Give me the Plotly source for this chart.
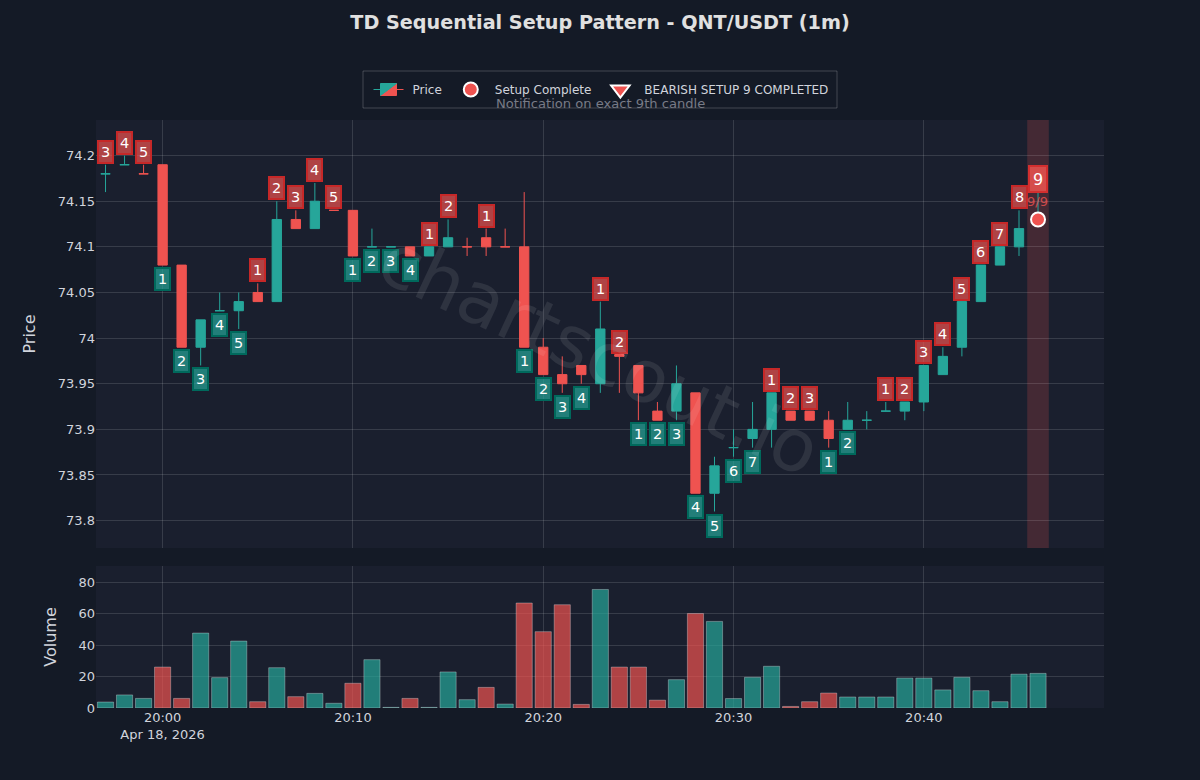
import pandas as pd
import plotly.graph_objects as go
from plotly.subplots import make_subplots

start_time = "2026-04-18 19:57"
opens = [74.18,74.19,74.18,74.19,74.08,73.99,74.03,74.03,74.05,74.04,74.13,74.12,74.14,74.14,74.10,74.10,74.10,74.09,74.10,74.10,74.11,74.10,74.10,73.99,73.96,73.97,73.95,73.982,73.97,73.92,73.92,73.94,73.83,73.88,73.89,73.90,73.92,73.92,73.91,73.90,73.91,73.92,73.92,73.93,73.96,73.99,74.04,74.08,74.10,74.13]
highs = [74.19,74.20,74.19,74.19,74.08,74.02,74.05,74.05,74.06,74.15,74.14,74.17,74.14,74.14,74.12,74.10,74.10,74.10,74.13,74.11,74.12,74.12,74.16,74.00,73.98,73.97,74.04,73.982,73.97,73.93,73.97,73.94,73.87,73.90,73.93,73.94,73.92,73.92,73.92,73.93,73.92,73.93,73.93,73.97,73.99,74.04,74.08,74.10,74.14,74.16]
lows = [74.16,74.19,74.18,74.08,73.99,73.97,74.03,74.01,74.04,74.04,74.12,74.12,74.14,74.09,74.10,74.10,74.09,74.09,74.10,74.09,74.09,74.10,73.99,73.96,73.94,73.95,73.94,73.94,73.91,73.91,73.91,73.83,73.81,73.87,73.88,73.88,73.91,73.91,73.88,73.90,73.90,73.92,73.91,73.92,73.96,73.98,74.04,74.08,74.09,74.13]
closes = [74.18,74.19,74.18,74.08,73.99,74.02,74.03,74.04,74.04,74.13,74.12,74.15,74.14,74.09,74.10,74.10,74.09,74.10,74.11,74.10,74.10,74.10,73.99,73.96,73.95,73.96,74.01,73.98,73.94,73.91,73.95,73.83,73.86,73.88,73.90,73.94,73.91,73.91,73.89,73.91,73.91,73.92,73.93,73.97,73.98,74.04,74.08,74.10,74.12,74.13]
volumes = [3.8,8.3,6.1,26,6.1,47.6,19.3,42.5,4,25.6,7.2,9.3,3,15.7,30.7,0.4,6.1,0.4,22.9,5.3,13.1,2.5,66.7,48.5,65.6,2.3,75.3,26,26,5,18,60,55,6,19.5,26.5,1,4,9.5,7,7,7,19,19,11.5,19.5,11,4,21.5,22]
# TD count per candle: positive above the high, negative below the low, 0 none
setup_counts = [3,4,5,-1,-2,-3,-4,-5,1,2,3,4,5,-1,-2,-3,-4,1,2,0,1,0,-1,-2,-3,-4,1,2,-1,-2,-3,-4,-5,-6,-7,1,2,3,-1,-2,0,1,2,3,4,5,6,7,8,9]
y_ticks_volume = [0,20,40,60,80]

UP, DOWN = "#26a69a", "#ef5350"
PAGE, PLOT = "#141a26", "#1a1f2e"
GRID = "rgba(255,255,255,0.13)"
TXT = "#d1d4dc"

times = pd.date_range(start_time, periods=len(opens), freq="min")

fig = make_subplots(rows=2, cols=1, shared_xaxes=True, vertical_spacing=18/588,
                    row_heights=[428/570, 142/570])

fig.add_trace(go.Candlestick(
    x=times, open=opens, high=highs, low=lows, close=closes, name="Price",
    increasing=dict(line=dict(color=UP, width=1), fillcolor=UP),
    decreasing=dict(line=dict(color=DOWN, width=1), fillcolor=DOWN),
), row=1, col=1)

fig.add_trace(go.Scatter(
    x=[times[-1]], y=[closes[-1]], mode="markers", name="Setup Complete",
    marker=dict(size=14, color=DOWN, line=dict(color="white", width=2)),
), row=1, col=1)

fig.add_trace(go.Scatter(
    x=[times[-1]], y=[None], mode="markers", name="BEARISH SETUP 9 COMPLETED",
    marker=dict(symbol="triangle-down", size=20, color=DOWN, line=dict(color="white", width=2)),
), row=1, col=1)

vol_colors = ["rgba(38,166,154,0.7)" if c >= o else "rgba(239,83,80,0.7)" for o, c in zip(opens, closes)]
fig.add_trace(go.Bar(
    x=times, y=volumes, marker=dict(color=vol_colors, line=dict(color="rgba(255,255,255,0.3)", width=1)),
    showlegend=False,
), row=2, col=1)

for t, h, l, n in zip(times, highs, lows, setup_counts):
    if n == 0:
        continue
    above = n > 0
    last = abs(n) == 9
    fig.add_annotation(
        x=t, y=h if above else l, xref="x", yref="y", text=str(abs(n)), showarrow=False,
        yshift=13 if above else -14,
        font=dict(color="white", size=16 if last else 14.5, family="DejaVu Sans"),
        width=12 if last else 9, height=20 if last else 16,
        bgcolor=("rgba(239,83,80,0.85)" if last else "rgba(239,83,80,0.7)") if above else "rgba(38,166,154,0.7)",
        bordercolor=("#d32f2f" if last else "#c62828") if above else "#00695c",
        borderwidth=2, borderpad=2,
    )

fig.add_annotation(x=times[-1], y=closes[-1], xref="x", yref="y", text="9/9", showarrow=False,
                   yshift=18, xshift=-1, font=dict(color=DOWN, size=13, family="DejaVu Sans"), opacity=0.8)

half = pd.Timedelta(seconds=34)
fig.add_shape(type="rect", xref="x", yref="y domain", x0=times[-1]-half, x1=times[-1]+half, y0=0, y1=1,
              fillcolor="rgba(239,83,80,0.2)", line_width=0, layer="below")

fig.add_shape(type="rect", xref="paper", yref="paper", x0=(363-96)/1008, x1=(837-96)/1008,
              y0=(708-108)/588, y1=(708-71)/588, line=dict(color="rgba(255,255,255,0.2)", width=1),
              fillcolor="rgba(0,0,0,0)")

fig.add_annotation(x=0.5, y=(708-104)/588, xref="paper", yref="paper", showarrow=False, yanchor="middle",
                   text="Notification on exact 9th candle",
                   font=dict(color="#787b86", size=13.1, family="DejaVu Sans"))
fig.add_annotation(x=0.5, y=(708-354)/588, xref="paper", yref="paper", showarrow=False, yanchor="middle",
                   text="chartscout.io", textangle=25,
                   font=dict(color="rgba(255,255,255,0.09)", size=73, family="DejaVu Sans"))

x_range = ["2026-04-18 19:56:30", "2026-04-18 20:49:28"]
axis_common = dict(gridcolor=GRID, gridwidth=1, zeroline=False, showline=False,
                   tickfont=dict(color=TXT, size=13, family="DejaVu Sans"))
fig.update_xaxes(range=x_range, dtick=600000, tick0="2026-04-18 20:00", rangeslider_visible=False, **axis_common)
fig.update_yaxes(**axis_common)
fig.update_yaxes(row=1, col=1, range=[73.77, 74.239], dtick=0.05, tick0=73.8,
                 title=dict(text="Price", font=dict(color=TXT, size=16, family="DejaVu Sans"), standoff=18))
fig.update_yaxes(row=2, col=1, range=[0, 90.2], tickvals=y_ticks_volume,
                 title=dict(text="Volume", font=dict(color=TXT, size=16, family="DejaVu Sans"), standoff=17))

fig.update_layout(
    width=1200, height=780, autosize=False,
    paper_bgcolor=PAGE, plot_bgcolor=PLOT,
    margin=dict(l=96, r=96, t=120, b=72),
    title=dict(text="<b>TD Sequential Setup Pattern - QNT/USDT (1m)</b>", x=0.5, xanchor="center", y=0.972, yanchor="middle",
               font=dict(color="#e0e0e0", size=19.2, family="DejaVu Sans")),
    font=dict(family="DejaVu Sans", color=TXT),
    legend=dict(orientation="h", x=(599-96)/1008, xanchor="center", y=(708-75)/588, yanchor="top", itemwidth=38,
                bgcolor="rgba(0,0,0,0)", borderwidth=0,
                font=dict(color=TXT, size=12, family="DejaVu Sans")),
    bargap=0.15, hovermode=False,
)

fig.write_html("out.html", config=dict(displayModeBar=False),
               post_script="document.body.style.margin='0';document.body.style.background='%s';document.documentElement.style.overflow='hidden';" % PAGE)
